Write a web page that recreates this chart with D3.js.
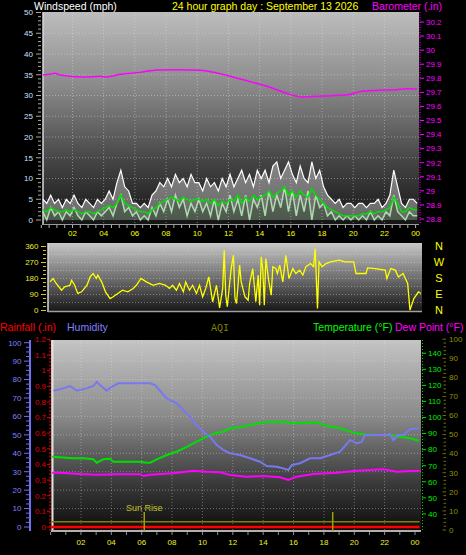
<!DOCTYPE html>
<html><head><meta charset="utf-8">
<script src="https://cdn.jsdelivr.net/npm/d3@7"></script>
<style>
body{margin:0;background:#000;}
svg{display:block;font-family:"Liberation Sans",Arial,sans-serif;}
</style>
</head><body>
<svg id="c" width="466" height="555"></svg>
<script>
// ---------------- DATA ----------------
const hourTickValues = [2,4,6,8,10,12,14,16,18,20,22,24];
const hourTickLabels = ["02","04","06","08","10","12","14","16","18","20","22","00"];

// wind (mph), every 15 minutes starting 00:06
const windStart = 0.1, windStep = 0.25;
const windGust = [5,4,6,4,5,3,5,4, 6,4,3,5,4,3,5,4, 5,7,5,9,12,8,7,4, 4,3,4,3,6,7,9,8,
  10,8,11,9,10,8,11,9, 9,7,10,8,9,7,10,8, 11,8,10,12,9,11,8,12, 10,12,9,13,14,10,12,14,
  11,9,13,10,9,14,10,12, 8,6,5,4,5,3,4,4, 3,4,4,3,4,4,5,3, 4,6,12,8,4,3,5,5, 4];
const windSpeed = [2,0,3,1,2,0,2,1, 3,1,0,2,1,0,2,1, 2,3,1,4,6,2,3,1, 2,0,1,0,3,1,4,2,
  5,2,6,3,5,1,4,2, 5,2,4,1,5,0,4,2, 6,2,5,1,6,0,5,3, 6,1,7,2,6,3,8,2,
  7,1,6,2,7,0,6,3, 4,1,2,0,1,0,1,0, 1,0,1,0,2,0,1,0, 2,1,6,2,1,0,2,1, 1];
const windAvg = [2.5,2,3,2.5,2,2,2.5,2, 2.5,2,1.5,2,2,1.5,2,2.5, 3,3.5,3,4,6,4,3.5,3, 2.5,2,2,1.5,2.5,3,4,4.5,
  5,5.5,5,4.5,5.5,5,4.5,5, 5,4.5,5,4,5,3.5,4.5,4, 5,4.5,6,4,5.5,4.5,6,5, 5.5,6,7,5.5,6.5,7,8,6,
  7,5.5,7,6,5.5,7.5,6,5, 4,3,2.5,2,1.5,1,1,1, 1,1,1.5,1.5,2,1.5,2,2, 2.5,3,5.5,4,2,2,3,2.5, 2.5];

// barometer (in)
const baroHours = [0.1,0.56,0.88,1.2,2.69,3.76,4.19,5.04,6.32,7.4,8.46,9.74,10.6,11.45,12.29,13.57,14.85,15.73,16.77,17.64,18.67,19.58,20.64,21.71,22.78,23.42,24.1];
const baroValues = [29.823,29.828,29.835,29.823,29.809,29.814,29.809,29.828,29.842,29.859,29.861,29.859,29.852,29.833,29.809,29.771,29.729,29.693,29.667,29.672,29.676,29.681,29.710,29.715,29.719,29.726,29.724];

// wind direction (degrees)
const dirHours = [0,0.2,0.4,0.75,0.95,1.3,1.4,1.6,1.8,2.05,2.4,2.6,2.8,3.0,3.1,3.35,3.6,3.9,4.1,4.4,4.7,5.05,5.4,5.6,5.9,6.25,6.7,7.1,7.5,7.75,7.95,8.2,8.4,8.65,8.8,9.05,9.25,9.5,9.7,9.9,10.1,10.3,10.55,10.8,11.0,11.2,11.3,11.4,11.5,11.75,11.9,12.0,12.1,12.3,12.4,12.65,12.85,12.95,13.15,13.35,13.5,13.6,13.7,13.8,13.9,14.0,14.2,14.35,14.45,14.65,14.75,14.9,15.1,15.3,15.5,15.75,15.95,16.2,16.4,16.6,16.9,17.1,17.2,17.35,17.45,17.65,17.9,18.2,18.75,19.15,19.7,19.85,20.5,20.6,21.1,21.75,21.85,22.1,22.4,22.6,22.9,23.2,23.35,23.6,23.9,24.05];
const dirValues = [161,180,152,114,133,142,170,142,96,105,142,189,208,180,199,161,105,67,77,96,114,105,124,142,180,161,142,152,142,124,142,114,152,105,161,114,142,96,142,77,124,189,49,142,15,124,339,86,21,236,311,67,39,255,161,77,58,152,236,49,199,30,302,236,30,292,161,86,246,236,208,255,161,311,180,236,208,227,199,246,264,246,349,11,274,246,264,274,283,274,274,208,208,240,236,227,180,236,227,189,208,152,2,67,105,96];

// humidity (%)
const humHours = [0.18,0.62,1.28,1.72,2.38,2.81,3.04,3.25,3.69,4.02,4.46,5.89,6.55,6.88,7.65,8.3,8.74,9.18,9.62,10.06,10.5,10.94,11.38,11.82,12.48,13.14,13.79,14.24,14.89,15.33,15.66,15.88,16.43,17.09,17.75,18.41,19.06,19.72,20.17,20.5,20.71,21.48,22.14,22.36,22.58,22.9,23.24,23.68,24.3];
const humValues = [74,74.7,76.5,74,75.2,76.5,78.8,77,74,76.1,78,78,78,77,69.8,67.1,63.5,59.8,55.3,51.7,49,44.5,41.8,40,39.1,37.3,35.4,33.1,32.7,31.8,30.9,33.6,34.6,37.3,37.3,39.1,40.9,47.2,45.4,46.3,49.9,49.9,49.9,50.5,47.2,49.9,49.9,53,53.6];

// temperature (°F)
const tempHours = [0.1,1.5,2.15,2.81,3.04,3.47,3.91,4.13,5.89,6.33,6.55,6.99,7.65,8.3,8.97,9.62,10.28,10.94,11.38,11.82,12.48,13.14,14.01,15.11,15.77,16.65,17.53,18.19,19.06,19.94,20.6,21.48,22.36,23.02,23.68,24.25];
const tempValues = [75.6,74.6,74.6,74,71.9,74,74.4,72.5,72.5,71.9,71.9,74,76.7,78.7,81.8,85,88.1,90.6,91.2,93.3,93.9,95.3,97,97.4,96.8,96.4,97,94.7,93.3,90.6,89.6,89.1,89.1,88.1,87.1,85.6];

// dew point (°F)
const dewHours = [0.1,0.62,1.94,3.04,4.35,5.89,6.1,6.55,8.08,9.4,10.28,11.16,11.82,12.92,14.01,15.11,15.66,16.21,17.31,18.85,20.17,21.04,21.92,22.8,23.68,24.3];
const dewValues = [65.7,65.7,64.8,64.4,64.7,64.7,63.6,64.4,65.3,66.9,66.3,65.9,64.2,63.2,63.6,62.8,61.1,63.2,64.8,65.7,66.9,67.3,67.8,66.3,66.7,66.9];

// rainfall (in) and AQI
const rainHours = [0, 24.3];
const rainValues = [0, 0];
const aqiHours = [0, 24.3];
const aqiValues = [4.3, 4.3];

// sun events
const sunLabels = ["Sun Rise", ""];
const sunHours = [6.17, 18.58];

// axis tick labels
const windTicks = [0,5,10,15,20,25,30,35,40,45,50];
const baroTicks = [28.8,28.9,29,29.1,29.2,29.3,29.4,29.5,29.6,29.7,29.8,29.9,30,30.1,30.2];
const dirTicks = [0,90,180,270,360];
const compassLabels = ["N","W","S","E","N"];
const compassDegrees = [360,270,180,90,0];
const humTicks = [0,10,20,30,40,50,60,70,80,90,100];
const rainTicks = [0,0.1,0.2,0.3,0.4,0.5,0.6,0.7,0.8,0.9,1,1.1,1.2];
const tempTicks = [40,50,60,70,80,90,100,110,120,130,140];
const aqiTicks = [0,10,20,30,40,50,60,70,80,90,100];

// ---------------- DRAW ----------------
(function(){
const svg = d3.select("#c");
const defs = svg.append("defs");
function grad(id, stops){
  const g = defs.append("linearGradient").attr("id", id).attr("x1",0).attr("x2",0).attr("y1",0).attr("y2",1);
  stops.forEach(s => g.append("stop").attr("offset", s[0]).attr("stop-color", s[1]));
}
grad("gTop", [[0,"#bdbdbd"],[0.35,"#8a8a8a"],[0.7,"#454545"],[1,"#151515"]]);
grad("gMid", [[0,"#c8c8c8"],[0.5,"#707070"],[1,"#151515"]]);
grad("gBot", [[0,"#c4c4c4"],[0.4,"#8a8a8a"],[0.75,"#3a3a3a"],[1,"#0c0c0c"]]);

const numFont = 8;

// ===== TOP PANEL =====
const xTop = d3.scaleLinear([0,24],[41.3,415.6]);
const yWind = d3.scaleLinear([0,50],[220,12.5]);
const yBaro = d3.scaleLinear([28.8,30.2],[219,22]);
const topG = svg.append("g");
topG.append("rect").attr("x",43).attr("y",12).attr("width",376).attr("height",212).attr("fill","url(#gTop)");
topG.selectAll(".hg").data(d3.range(5,50,5)).join("line")
  .attr("x1",43).attr("x2",419).attr("y1",d=>yWind(d)).attr("y2",d=>yWind(d))
  .attr("stroke","#e0e0e0").attr("stroke-opacity",0.45).attr("stroke-dasharray","1,2");
topG.selectAll(".vg").data(hourTickValues.slice(0,11)).join("line")
  .attr("x1",d=>xTop(d)).attr("x2",d=>xTop(d)).attr("y1",12).attr("y2",224)
  .attr("stroke","#e0e0e0").attr("stroke-opacity",0.45).attr("stroke-dasharray","1,2");
topG.append("line").attr("x1",43).attr("x2",43).attr("y1",12).attr("y2",225).attr("stroke","#d8d8d8").attr("stroke-width",1.5);
topG.append("line").attr("x1",43).attr("x2",419).attr("y1",224.5).attr("y2",224.5).attr("stroke","#9a9a9a");
topG.selectAll(".xt").data(d3.range(0,24.01,0.5)).join("line")
  .attr("x1",d=>xTop(d)).attr("x2",d=>xTop(d)).attr("y1",225).attr("y2",228)
  .attr("stroke","#b0b0b0");
topG.selectAll(".lt").data(d3.range(0,51,1)).join("line")
  .attr("x1",d=> d%5===0 ? 36 : 38).attr("x2",41).attr("y1",d=>yWind(d)).attr("y2",d=>yWind(d))
  .attr("stroke","#a8a8a8");
topG.selectAll(".ll").data(windTicks).join("text")
  .attr("x",33).attr("y",d=>yWind(d)).attr("dy","0.35em").attr("text-anchor","end")
  .attr("font-size",numFont).attr("fill","#cfe0ff").text(d=>d);
topG.append("line").attr("x1",420).attr("x2",420).attr("y1",12).attr("y2",224)
  .attr("stroke","#ff00ff").attr("stroke-dasharray","1,1.5");
topG.selectAll(".rt").data(baroTicks).join("line")
  .attr("x1",420).attr("x2",424).attr("y1",d=>yBaro(d)).attr("y2",d=>yBaro(d)).attr("stroke","#ff00ff");
topG.selectAll(".rl").data(baroTicks).join("text")
  .attr("x",426).attr("y",d=>yBaro(d)).attr("dy","0.35em")
  .attr("font-size",numFont).attr("fill","#ff00ff").text(d=>String(+d.toFixed(1)));
topG.selectAll(".xl").data(hourTickValues).join("text")
  .attr("x",(d)=>xTop(d)).attr("y",236).attr("text-anchor","middle")
  .attr("font-size",numFont).attr("fill","#ffff00").text((d,i)=>hourTickLabels[i]);
const windT = windGust.map((d,i)=>windStart + i*windStep);
const lineW = (arr) => d3.line().x((d,i)=>xTop(windT[i])).y(d=>yWind(d))(arr);
const gc = topG.append("g");
gc.append("path").attr("d", d3.area().x((d,i)=>xTop(windT[i])).y0((d,i)=>yWind(windSpeed[i])).y1(d=>yWind(d))(windGust))
  .attr("fill","#ffffff").attr("fill-opacity",0.35);
gc.append("path").attr("d", d3.area().x((d,i)=>xTop(windT[i])).y0(yWind(0)).y1(d=>yWind(d))(windSpeed))
  .attr("fill","#c8f0c8").attr("fill-opacity",0.3);
gc.append("path").attr("d", lineW(windGust)).attr("fill","none").attr("stroke","#ffffff").attr("stroke-width",1.2);
gc.append("path").attr("d", lineW(windSpeed)).attr("fill","none").attr("stroke","#b8e8b8").attr("stroke-width",1.5).attr("stroke-opacity",0.9);
gc.append("path").attr("d", lineW(windAvg)).attr("fill","none").attr("stroke","#00e000").attr("stroke-width",1.5);
topG.append("path").attr("d", d3.line().x((d,i)=>xTop(baroHours[i])).y(d=>yBaro(d)).curve(d3.curveMonotoneX)(baroValues))
  .attr("fill","none").attr("stroke","#ff00ff").attr("stroke-width",1.5);

svg.append("text").attr("x",34).attr("y",9.5).attr("font-size",10.5).attr("fill","#ffffff").text("Windspeed (mph)");
svg.append("text").attr("x",172).attr("y",9.5).attr("font-size",10.5).attr("fill","#ffff00").text("24 hour graph day : September 13 2026");
svg.append("text").attr("x",372).attr("y",9.5).attr("font-size",10.5).attr("fill","#ff00ff").text("Barometer (.in)");

// ===== MIDDLE PANEL =====
const xMid = d3.scaleLinear([0,24],[50,420]);
const yDir = d3.scaleLinear([0,360],[310.5,246.5]);
const mid = svg.append("g");
mid.append("rect").attr("x",48).attr("y",243).attr("width",374).attr("height",69).attr("fill","url(#gMid)");
mid.selectAll(".hg").data([45,90,135,180,225,270,315]).join("line")
  .attr("x1",48).attr("x2",422).attr("y1",d=>yDir(d)).attr("y2",d=>yDir(d))
  .attr("stroke","#e0e0e0").attr("stroke-opacity",0.4).attr("stroke-dasharray","1,2");
mid.append("line").attr("x1",48).attr("x2",48).attr("y1",243).attr("y2",312).attr("stroke","#d8d8d8").attr("stroke-width",1.5);
mid.append("line").attr("x1",48).attr("x2",422).attr("y1",311.5).attr("y2",311.5).attr("stroke","#a0a0a0").attr("stroke-width",1.5);
mid.selectAll(".lt").data(d3.range(0,361,22.5)).join("line")
  .attr("x1",d=> d%90===0 ? 41 : 43).attr("x2",46).attr("y1",d=>yDir(d)).attr("y2",d=>yDir(d))
  .attr("stroke","#c8c820");
mid.selectAll(".ll").data(dirTicks).join("text")
  .attr("x",38.5).attr("y",d=>yDir(d)).attr("dy","0.35em").attr("text-anchor","end")
  .attr("font-size",numFont).attr("fill","#e8e830").text(d=>d);
mid.selectAll(".cl").data(compassLabels).join("text")
  .attr("x",439).attr("y",(d,i)=>yDir(compassDegrees[i])).attr("dy","0.36em").attr("text-anchor","middle")
  .attr("font-size",11).attr("fill","#ffff00").text(d=>d);
mid.append("path").attr("d", d3.line().x((d,i)=>xMid(dirHours[i])).y(d=>yDir(d))(dirValues))
  .attr("fill","none").attr("stroke","#ffff00").attr("stroke-width",1.3);

// ===== BOTTOM PANEL =====
const xBot = d3.scaleLinear([0,24],[50.6,415]);
const yHum = d3.scaleLinear([0,100],[527,342.7]);
const yRain = d3.scaleLinear([0,1.2],[527,339.4]);
const yTemp = d3.scaleLinear([30,150],[530,337.2]);
const yAqi = d3.scaleLinear([0,100],[530,339.2]);
const bot = svg.append("g");
bot.append("rect").attr("x",51).attr("y",340).attr("width",370).attr("height",191).attr("fill","url(#gBot)");
bot.selectAll(".hg").data(d3.range(10,101,10)).join("line")
  .attr("x1",51).attr("x2",421).attr("y1",d=>yHum(d)).attr("y2",d=>yHum(d))
  .attr("stroke","#e0e0e0").attr("stroke-opacity",0.4).attr("stroke-dasharray","1,2");
bot.selectAll(".vg").data(hourTickValues.slice(0,11)).join("line")
  .attr("x1",d=>xBot(d)).attr("x2",d=>xBot(d)).attr("y1",340).attr("y2",531)
  .attr("stroke","#e0e0e0").attr("stroke-opacity",0.4).attr("stroke-dasharray","1,2");
bot.append("line").attr("x1",52.5).attr("x2",52.5).attr("y1",340).attr("y2",532).attr("stroke","#e0e0e0").attr("stroke-width",2);
bot.append("line").attr("x1",51).attr("x2",421).attr("y1",531).attr("y2",531).attr("stroke","#b0b0b0").attr("stroke-width",2);
bot.selectAll(".xt").data(d3.range(0,24.01,1)).join("line")
  .attr("x1",d=>xBot(d)).attr("x2",d=>xBot(d)).attr("y1",532).attr("y2",535).attr("stroke","#909090");
bot.selectAll(".xl").data(hourTickValues).join("text")
  .attr("x",d=>xBot(d)).attr("y",545).attr("text-anchor","middle")
  .attr("font-size",numFont).attr("fill","#f0f020").text((d,i)=>hourTickLabels[i]);

bot.append("line").attr("x1",30).attr("x2",30).attr("y1",340).attr("y2",531).attr("stroke","#7070f0").attr("stroke-width",2);
bot.selectAll(".ht").data(d3.range(0,100.1,2.5)).join("line")
  .attr("x1",d=> d%10===0 ? 24 : 26).attr("x2",29).attr("y1",d=>yHum(d)).attr("y2",d=>yHum(d)).attr("stroke","#7070f0");
bot.selectAll(".hl").data(humTicks).join("text")
  .attr("x",21.5).attr("y",d=>yHum(d)).attr("dy","0.35em").attr("text-anchor","end")
  .attr("font-size",numFont).attr("fill","#8080ff").text(d=>d);
bot.append("line").attr("x1",50).attr("x2",50).attr("y1",340).attr("y2",531)
  .attr("stroke","#e00000").attr("stroke-dasharray","2,1.5").attr("stroke-width",1.2);
bot.selectAll(".rt").data(rainTicks).join("line")
  .attr("x1",47).attr("x2",50).attr("y1",d=>yRain(d)).attr("y2",d=>yRain(d)).attr("stroke","#e00000");
bot.selectAll(".rl").data(rainTicks).join("text")
  .attr("x",46).attr("y",d=>yRain(d)).attr("dy","0.35em").attr("text-anchor","end")
  .attr("font-size",numFont).attr("fill","#e00000").text(d=>String(+d.toFixed(1)));
bot.append("line").attr("x1",422.5).attr("x2",422.5).attr("y1",340).attr("y2",531)
  .attr("stroke","#00d000").attr("stroke-dasharray","1,2");
bot.selectAll(".tt").data(tempTicks).join("line")
  .attr("x1",422).attr("x2",426).attr("y1",d=>yTemp(d)).attr("y2",d=>yTemp(d)).attr("stroke","#00e000");
bot.selectAll(".tl").data(tempTicks).join("text")
  .attr("x",428).attr("y",d=>yTemp(d)).attr("dy","0.35em")
  .attr("font-size",numFont).attr("fill","#00ee00").text(d=>d);
bot.selectAll(".at").data(d3.range(0,100.1,2)).join("line")
  .attr("x1",d=> d%10===0 ? 442.5 : 443.5).attr("x2",446).attr("y1",d=>yAqi(d)).attr("y2",d=>yAqi(d)).attr("stroke","#707000");
bot.selectAll(".al").data(aqiTicks).join("text")
  .attr("x",449).attr("y",d=>yAqi(d)).attr("dy","0.35em")
  .attr("font-size",numFont).attr("fill","#909000").text(d=>d);

const plotClip = defs.append("clipPath").attr("id","bclip");
plotClip.append("rect").attr("x",51).attr("y",340).attr("width",370).attr("height",192);
const series = bot.append("g").attr("clip-path","url(#bclip)");
series.append("path").attr("d", d3.line().x((d,i)=>xBot(aqiHours[i])).y(d=>yAqi(d))(aqiValues))
  .attr("fill","none").attr("stroke","#808000").attr("stroke-width",1.5);
series.append("path").attr("d", d3.line().x((d,i)=>xBot(rainHours[i])).y(d=>yRain(d))(rainValues))
  .attr("fill","none").attr("stroke","#ff0000").attr("stroke-width",2.5);
series.selectAll(".sun").data(sunHours).join("line")
  .attr("x1",d=>xBot(d)).attr("x2",d=>xBot(d)).attr("y1",512).attr("y2",531)
  .attr("stroke","#a0a000").attr("stroke-width",1.5);
series.selectAll(".sunl").data(sunLabels).join("text")
  .attr("x",(d,i)=>xBot(sunHours[i])).attr("y",511).attr("text-anchor","middle")
  .attr("font-size",9).attr("fill","#c0c020").text(d=>d);
series.append("path").attr("d", d3.line().x((d,i)=>xBot(dewHours[i])).y(d=>yTemp(d))(dewValues))
  .attr("fill","none").attr("stroke","#ff00ff").attr("stroke-width",2);
series.append("path").attr("d", d3.line().x((d,i)=>xBot(tempHours[i])).y(d=>yTemp(d))(tempValues))
  .attr("fill","none").attr("stroke","#00e000").attr("stroke-width",2);
series.append("path").attr("d", d3.line().x((d,i)=>xBot(humHours[i])).y(d=>yHum(d))(humValues))
  .attr("fill","none").attr("stroke","#7878f0").attr("stroke-width",2);

svg.append("text").attr("x",0).attr("y",331).attr("font-size",10.5).attr("fill","#ff0000").text("Rainfall (.in)");
svg.append("text").attr("x",67).attr("y",331).attr("font-size",10.5).attr("fill","#8080ff").text("Humidity");
svg.append("text").attr("x",211).attr("y",331).attr("font-size",10).attr("font-family","'Liberation Mono',monospace").attr("fill","#808000").text("AQI");
svg.append("text").attr("x",313).attr("y",331).attr("font-size",10.5).attr("fill","#00ff00").text("Temperature (°F)");
svg.append("text").attr("x",395).attr("y",331).attr("font-size",10.5).attr("fill","#ff00ff").text("Dew Point (°F)");
})();
</script>
</body></html>
